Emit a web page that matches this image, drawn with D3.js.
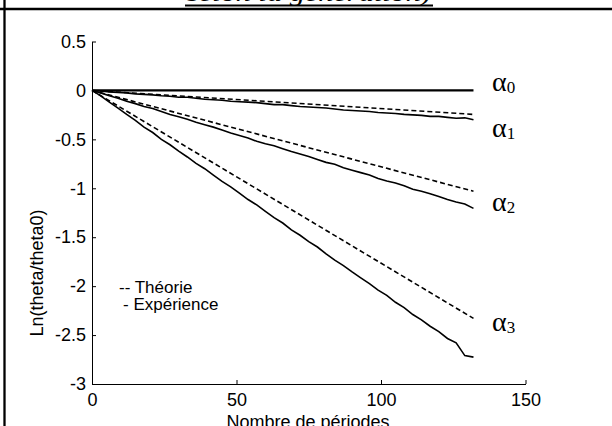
<!DOCTYPE html>
<html>
<head>
<meta charset="utf-8">
<script src="https://cdn.jsdelivr.net/npm/d3@7"></script>
<style>
  body { margin: 0; background: #fff; }
  svg { display: block; }
  text { font-family: "Liberation Sans", Arial, sans-serif; }
</style>
</head>
<body>
<svg id="chart" width="612" height="426"></svg>
<script>
// periods (x) shared by the measured curves
const periods = [0, 3, 6, 9, 12, 15, 18, 21, 24, 27, 30, 33, 36, 39, 42, 45, 48, 51, 54, 57, 60,
  63, 66, 69, 72, 75, 78, 81, 84, 87, 90, 93, 96, 99, 102, 105, 108, 111, 114, 117, 120,
  123, 126, 129, 132];

// measured (Expérience) curves
const exp1 = [0, -0.005, -0.015, -0.02, -0.025, -0.035, -0.04, -0.045, -0.055, -0.06, -0.07,
  -0.07, -0.08, -0.09, -0.095, -0.1, -0.11, -0.115, -0.12, -0.125, -0.135, -0.145, -0.145,
  -0.155, -0.165, -0.17, -0.175, -0.18, -0.19, -0.2, -0.205, -0.21, -0.215, -0.225, -0.23,
  -0.235, -0.245, -0.25, -0.255, -0.265, -0.265, -0.275, -0.285, -0.28, -0.30];
const exp2 = [0, -0.025, -0.055, -0.08, -0.11, -0.135, -0.165, -0.185, -0.215, -0.245, -0.27,
  -0.295, -0.325, -0.35, -0.375, -0.405, -0.435, -0.46, -0.485, -0.52, -0.545, -0.565, -0.595,
  -0.625, -0.65, -0.675, -0.705, -0.735, -0.755, -0.79, -0.815, -0.84, -0.865, -0.9, -0.925,
  -0.945, -0.975, -1.01, -1.03, -1.055, -1.085, -1.115, -1.14, -1.16, -1.205];
const exp3 = [0, -0.055, -0.12, -0.18, -0.245, -0.305, -0.375, -0.43, -0.5, -0.555, -0.62,
  -0.68, -0.745, -0.8, -0.865, -0.93, -0.985, -1.05, -1.115, -1.17, -1.235, -1.3, -1.355,
  -1.425, -1.48, -1.545, -1.6, -1.67, -1.735, -1.79, -1.855, -1.915, -1.975, -2.04, -2.095,
  -2.165, -2.22, -2.29, -2.345, -2.41, -2.465, -2.535, -2.58, -2.71, -2.725];

// theoretical (Théorie) straight lines
const theoryPeriods = [0, 132];
const theory1 = [0, -0.245];
const theory2 = [0, -1.03];
const theory3 = [0, -2.33];
const alpha0 = [0, 0];

const xTicks = [0, 50, 100, 150];
const xTickLabels = ["0", "50", "100", "150"];
const yTicks = [0.5, 0, -0.5, -1, -1.5, -2, -2.5, -3];
const yTickLabels = ["0.5", "0", "-0.5", "-1", "-1.5", "-2", "-2.5", "-3"];

const curveLabels = ["0", "1", "2", "3"];
const curveLabelValues = [0, -0.47, -1.22, -2.45];

const svg = d3.select("#chart");

const x = d3.scaleLinear().domain([0, 150]).range([92, 525.5]);
const y = d3.scaleLinear().domain([-3, 0.5]).range([384, 41.5]);

// page frame around the figure
svg.append("line").attr("x1", 0).attr("x2", 612).attr("y1", 9).attr("y2", 9)
  .attr("stroke", "#000").attr("stroke-width", 2.7);
svg.append("line").attr("x1", 4.5).attr("x2", 4.5).attr("y1", 0).attr("y2", 426)
  .attr("stroke", "#000").attr("stroke-width", 2.3);
// caption above (cut off by the page)
svg.append("text").attr("x", 187).attr("y", 1)
  .attr("textLength", 244).attr("lengthAdjust", "spacingAndGlyphs")
  .style("font-family", "'Liberation Serif', 'Times New Roman', serif")
  .style("font-style", "italic").style("font-size", "24px")
  .text("selon la génération)");
svg.append("line").attr("x1", 185).attr("x2", 433).attr("y1", 5.5).attr("y2", 5.5)
  .attr("stroke", "#000").attr("stroke-width", 2);

// axes (matlab style: ticks inside, no box)
const xAxis = d3.axisBottom(x).tickValues(xTicks)
  .tickFormat((d, i) => xTickLabels[i]).tickSizeInner(-4).tickSizeOuter(0).tickPadding(6);
const yAxis = d3.axisLeft(y).tickValues(yTicks)
  .tickFormat((d, i) => yTickLabels[i]).tickSizeInner(-4).tickSizeOuter(0).tickPadding(6);

const gx = svg.append("g").attr("transform", "translate(0,384)").call(xAxis);
const gy = svg.append("g").attr("transform", "translate(92,0)").call(yAxis);
[gx, gy].forEach(g => {
  g.selectAll("path").attr("stroke", "#000").attr("stroke-width", 1);
  g.selectAll("line").attr("stroke", "#000");
  g.selectAll("text").attr("fill", "#000")
    .style("font-family", "'Liberation Sans', Arial, sans-serif").style("font-size", "18px");
});
gx.selectAll("text").attr("dy", "0.9em");

// axis titles
svg.append("text").attr("x", 308).attr("y", 428).attr("text-anchor", "middle")
  .style("font-size", "18px").text("Nombre de périodes");
svg.append("text").attr("transform", "translate(43,273) rotate(-90)")
  .attr("text-anchor", "middle").style("font-size", "18px").text("Ln(theta/theta0)");

// curves
const line = d3.line().x(d => x(d[0])).y(d => y(d[1]));
const zip = (xs, ys) => xs.map((v, i) => [v, ys[i]]);

svg.append("path").datum(zip(theoryPeriods, alpha0)).attr("d", line)
  .attr("fill", "none").attr("stroke", "#000").attr("stroke-width", 2.2);

[theory1, theory2, theory3].forEach(t => {
  svg.append("path").datum(zip(theoryPeriods, t)).attr("d", line)
    .attr("fill", "none").attr("stroke", "#000").attr("stroke-width", 1.6)
    .attr("stroke-dasharray", "5,3");
});
[exp1, exp2, exp3].forEach(e => {
  svg.append("path").datum(zip(periods, e)).attr("d", line)
    .attr("fill", "none").attr("stroke", "#000").attr("stroke-width", 1.6);
});

// alpha labels
curveLabels.forEach((s, i) => {
  const t = svg.append("text").attr("x", 492).attr("y", y(curveLabelValues[i]) + 1)
    .style("font-family", "'Liberation Serif', 'Times New Roman', serif")
    .style("font-size", "28px");
  t.append("tspan").text("α");
  t.append("tspan").attr("font-size", "17px").attr("dy", 2).text(s);
});

// legend
svg.append("text").attr("x", 119).attr("y", 293).style("font-size", "17px").text("-- Théorie");
svg.append("text").attr("x", 123).attr("y", 310).style("font-size", "17px").text("- Expérience");
</script>
</body>
</html>
